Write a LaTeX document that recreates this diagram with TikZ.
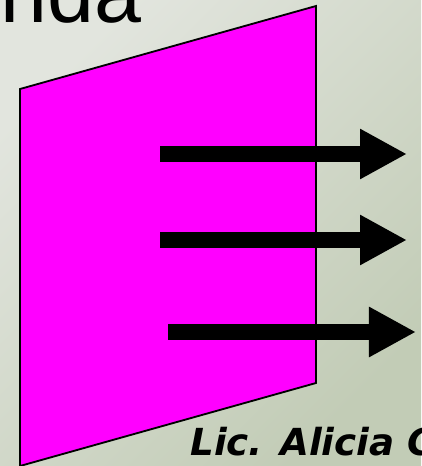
\documentclass[tikz,border=0pt]{standalone}
\usepackage{fontspec}
\setmainfont{Liberation Sans}
\newfontfamily\signfont{DejaVu Sans}
\usetikzlibrary{arrows.meta}
\definecolor{bglight}{RGB}{226,229,222}
\definecolor{bgdark}{RGB}{194,204,182}
\definecolor{frontpink}{RGB}{255,0,255}

\begin{document}
\begin{tikzpicture}[
  ray/.style={line width=0.4cm, -{Triangle[length=1.175cm, width=1.175cm]}}
]
% Background
\useasboundingbox (0,0) rectangle (10.525,11.65);
\clip (0,0) rectangle (10.525,11.65);
\shade[top color=bglight, middle color=bgdark, bottom color=bgdark, shading angle=45] (0,0) rectangle (10.525,11.65);

% Title (cut off at the top)
\node[anchor=base west, inner sep=0pt, font=\fontsize{60}{60}\selectfont] (title) at (0.0125,11.08) {nda};

% Wave front
\draw[line width=1.3pt, fill=frontpink] (0.5,9.425) -- (7.9,11.5) -- (7.9,2.075) -- (0.5,0) -- cycle;

% Rays
\coordinate (s1) at (4.0,7.8);
\coordinate (e1) at (10.175,7.8);
\coordinate (s2) at (4.0,5.65);
\coordinate (e2) at (10.175,5.65);
\coordinate (s3) at (4.2,3.35);
\coordinate (e3) at (10.4,3.35);
\draw[ray] (s1) -- (e1);
\draw[ray] (s2) -- (e2);
\draw[ray] (s3) -- (e3);

% Signature
\node[anchor=base west, inner sep=0pt, font=\signfont\bfseries\itshape\fontsize{26.5}{26.5}\selectfont] (author) at (4.75,0.275) {Lic. Alicia C};
\end{tikzpicture}
\end{document}
